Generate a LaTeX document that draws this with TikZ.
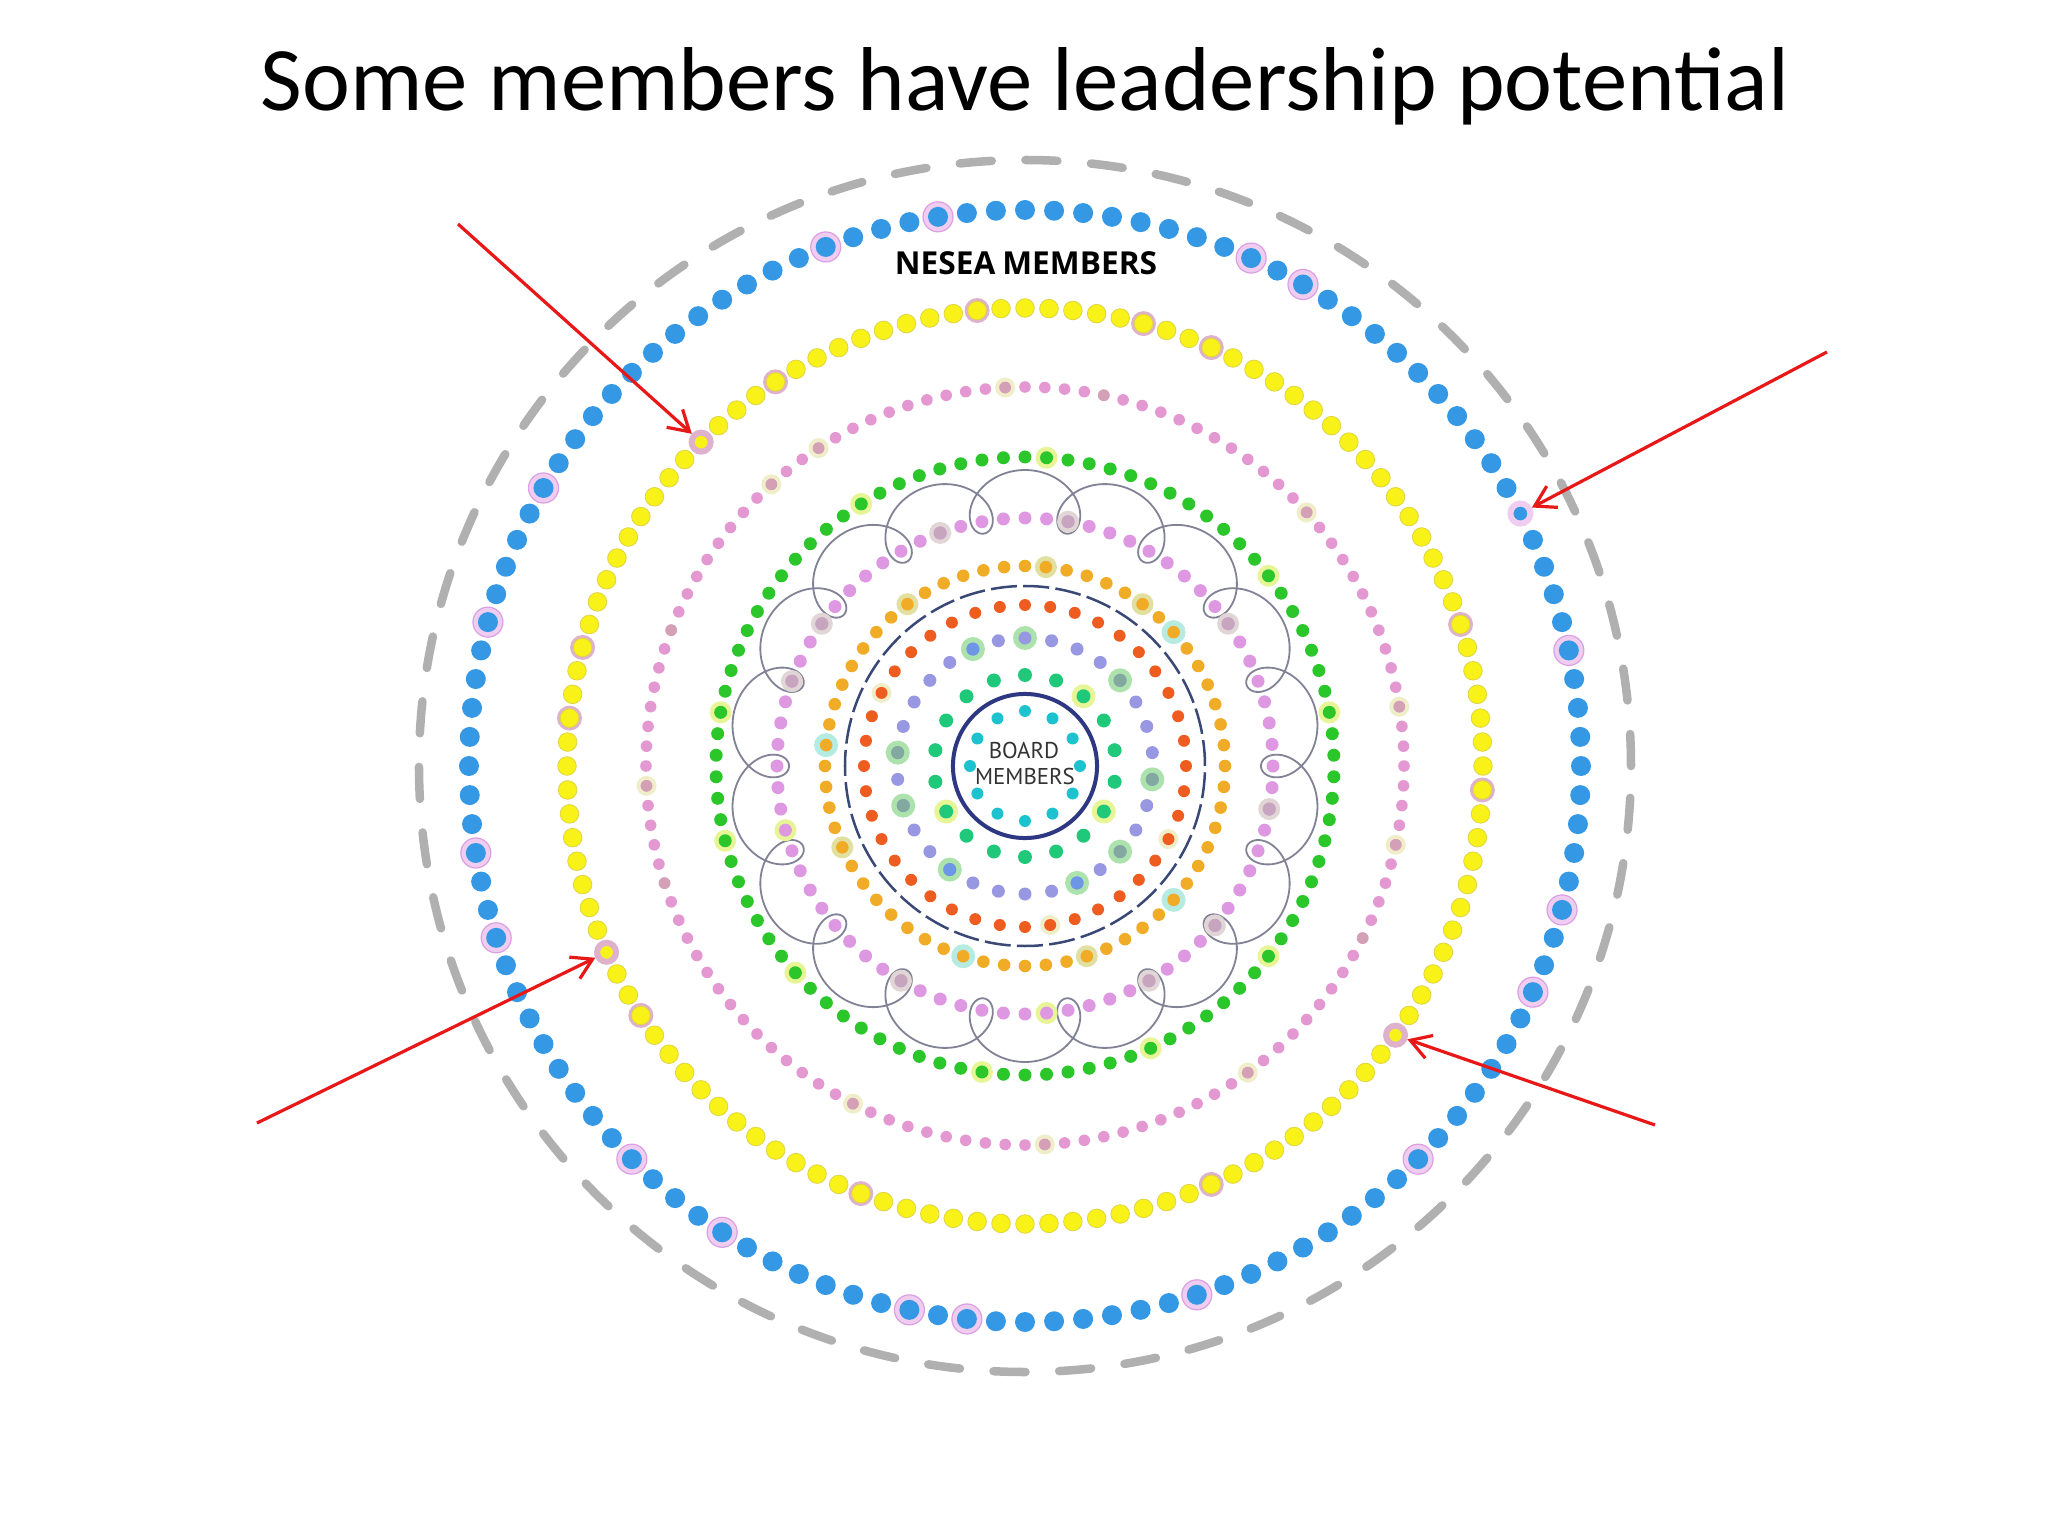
\documentclass[tikz,border=0pt]{standalone}
\usepackage{fontspec}
\setmainfont{Carlito}
\newfontfamily\neseafont{Open Sans}
\newfontfamily\boardfont{PT Sans}
\usetikzlibrary{arrows.meta}
\usetikzlibrary{positioning}

\definecolor{memberblue}{RGB}{52,152,228}
\definecolor{memberyellow}{RGB}{248,242,25}
\definecolor{yellowedge}{RGB}{222,212,70}
\definecolor{pinkouter}{RGB}{228,152,210}
\definecolor{pinkgrey}{RGB}{212,160,182}
\definecolor{membergreen}{RGB}{42,198,42}
\definecolor{pinkinner}{RGB}{222,152,226}
\definecolor{pinkinnergrey}{RGB}{200,165,190}
\definecolor{memberorange}{RGB}{240,172,38}
\definecolor{memberred}{RGB}{238,92,32}
\definecolor{memberlav}{RGB}{152,152,226}
\definecolor{lavgrey}{RGB}{130,168,160}
\definecolor{lavblue}{RGB}{110,150,230}
\definecolor{memberemerald}{RGB}{32,200,122}
\definecolor{memberteal}{RGB}{28,194,205}
\definecolor{boardnavy}{RGB}{45,55,130}
\definecolor{dashnavy}{RGB}{58,72,118}
\definecolor{outergrey}{RGB}{176,176,176}
\definecolor{loopgrey}{RGB}{130,130,150}
\definecolor{halopink}{RGB}{240,205,240}
\definecolor{halopinkedge}{RGB}{218,160,225}
\definecolor{halomauve}{RGB}{222,178,205}
\definecolor{halocream}{RGB}{240,238,200}
\definecolor{halolime}{RGB}{232,245,150}
\definecolor{halogrey}{RGB}{225,214,214}
\definecolor{haloteal}{RGB}{182,235,226}
\definecolor{haloolive}{RGB}{226,224,160}
\definecolor{halogreen}{RGB}{172,226,172}
\definecolor{arrowred}{RGB}{232,24,24}

\begin{document}
\begin{tikzpicture}[x=0.01cm, y=0.01cm,
    bluehalo/.style={fill=halopink, draw=halopinkedge, line width=0.012cm},
    yellowdot/.style={fill=memberyellow, draw=yellowedge, line width=0.008cm},
    leaddot/.style={circle, inner sep=0pt, minimum size=0.19cm, line width=0.06cm},
    leadarrow/.style={-{Straight Barb[length=0.2cm,width=0.24cm]}, arrowred, line width=0.032cm},
    loopline/.style={loopgrey, line width=0.018cm}]

    % Canvas
    \fill[white] (-1025,-770) rectangle (1023,766);
    \useasboundingbox (-1025,-770) rectangle (1023,766);

    % Title
    \node[font=\fontsize{25.8}{30}\selectfont, anchor=base] (title) at (0,655) {Some members have leadership potential};

    % Outer boundary
    \draw[outergrey, line width=0.085cm, line cap=round, dash pattern=on 0.32cm off 0.3365cm] (0,0) circle (606);

    % Loops round the inner pink ring
    \draw[loopline] plot[domain=0:360, samples=1800]
        ({(266-30*cos(18*\x))*cos(\x)+30*sin(18*\x)*sin(\x)},
         {(266-30*cos(18*\x))*sin(\x)-30*sin(18*\x)*cos(\x)});

    % NESEA members (blue)
    \foreach \a in {12,60,66,99,111,150,165,189,198,225,237,258,264,288,315,336,345}
        \filldraw[bluehalo] (\a:556) circle (15);
    \foreach \k in {1,...,120}
        \fill[memberblue] (\k*3:556) circle (10);

    % Yellow ring
    \foreach \a in {18,66,75,96,123,165,174,213,249,294,357}
        \fill[halomauve] (\a:458) circle (12.5);
    \foreach \k in {1,...,120}
        \filldraw[yellowdot] (\k*3:458) circle (9.3);

    % Outer pink ring
    \foreach \a in {9,42,93,123,132,183,243,273,306,348}
        \fill[halocream] (\a:379) circle (10);
    \foreach \k in {1,...,120}
        \fill[pinkouter] (\k*3:379) circle (5.8);
    \foreach \a in {9,42,78,93,123,132,159,183,198,243,273,306,333,348}
        \fill[pinkgrey] (\a:379) circle (5.8);

    % Green ring
    \foreach \a in {10,38,86,122,170,194,222,262,294,322}
        \fill[halolime] (\a:309) circle (11);
    \foreach \k in {0,...,89}
        \fill[membergreen] (2+\k*4:309) circle (6.5);

    % Inner pink ring
    \foreach \a in {35,80,110,145,160,240,300,320,350}
        \fill[halogrey] (\a:248) circle (11);
    \foreach \a in {195,275}
        \fill[halolime] (\a:248) circle (11);
    \foreach \k in {1,...,72}
        \fill[pinkinner] (\k*5:248) circle (6.5);
    \foreach \a in {35,80,110,145,160,240,300,320,350}
        \fill[pinkinnergrey] (\a:248) circle (6.5);

    % Orange ring
    \foreach \a in {54,84,126,204,288}
        \fill[haloolive] (\a:200) circle (11);
    \foreach \a in {42,174,252,318}
        \fill[haloteal] (\a:200) circle (12);
    \foreach \k in {1,...,60}
        \fill[memberorange] (\k*6:200) circle (6.3);

    % Dashed staff line
    \draw[dashnavy, line width=0.025cm, dash pattern=on 0.26cm off 0.063cm] (0,0) circle (180);

    % Red ring
    \foreach \a in {153,279,333}
        \fill[halocream] (\a:161) circle (10);
    \foreach \k in {1,...,40}
        \fill[memberred] (\k*9:161) circle (6);

    % Lavender ring
    \foreach \a in {42,90,114,174,198,234,294,318,354}
        \fill[halogreen] (\a:128) circle (12);
    \foreach \k in {0,...,29}
        \fill[memberlav] (6+\k*12:128) circle (6.5);
    \foreach \a in {42,174,198,318,354}
        \fill[lavgrey] (\a:128) circle (6.5);
    \foreach \a in {114,234,294}
        \fill[lavblue] (\a:128) circle (6.5);

    % Emerald ring
    \foreach \a in {50,210,330}
        \fill[halolime] (\a:91) circle (12);
    \foreach \k in {0,...,17}
        \fill[memberemerald] (10+\k*20:91) circle (7);

    % Board members
    \foreach \k in {0,...,11}
        \fill[memberteal] (\k*30:55) circle (6);
    \node[draw=boardnavy, line width=0.04cm, circle, minimum size=1.44cm, inner sep=0pt] (board) at (0,0) {};
    \node[font=\boardfont\fontsize{6.5}{7.5}\selectfont, text=black!80, anchor=base] (boardlbl) at (-1,8) {BOARD};
    \node[font=\boardfont\fontsize{6.5}{7.5}\selectfont, text=black!80, anchor=base] (memberslbl) at (0,-18) {MEMBERS};

    % Ring label
    \node[font=\neseafont\bfseries\fontsize{9}{10}\selectfont, anchor=base] (nesea) at (1,491) {NESEA\hspace{0.07cm}MEMBERS};

    % Members with leadership potential
    \node[leaddot, fill=memberyellow, draw=halomauve] (lead1) at (135:458) {};
    \node[leaddot, fill=memberblue, draw=halopink, minimum size=0.2cm] (lead2) at (27:556) {};
    \node[leaddot, fill=memberyellow, draw=halomauve] (lead3) at (204:458) {};
    \node[leaddot, fill=memberyellow, draw=halomauve] (lead4) at (324:458) {};

    % Arrows
    \coordinate (from1) at (-567,542);
    \coordinate (from2) at (802,414);
    \coordinate (from3) at (-768,-357);
    \coordinate (from4) at (630,-359);
    \draw[leadarrow] (from1) -- (lead1);
    \draw[leadarrow] (from2) -- (lead2);
    \draw[leadarrow] (from3) -- (lead3);
    \draw[leadarrow] (from4) -- (lead4);
\end{tikzpicture}
\end{document}
